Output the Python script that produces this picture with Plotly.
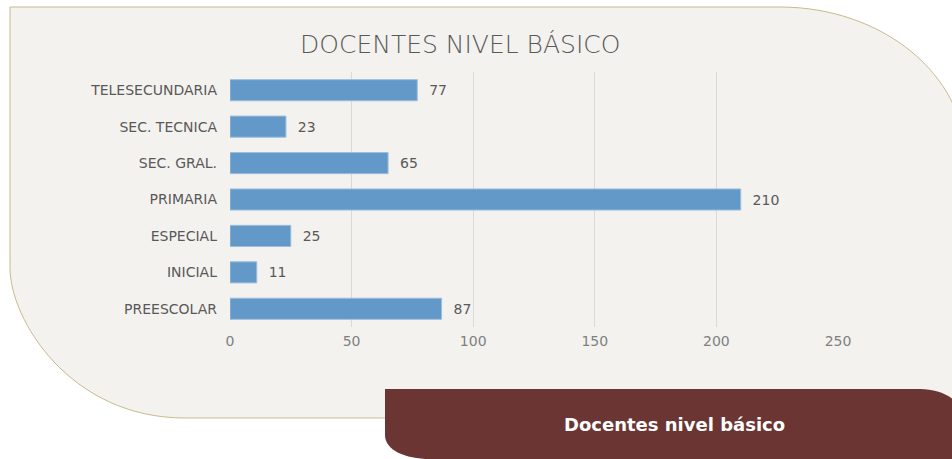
import plotly.graph_objects as go

# ---- data ----
categories = ["PREESCOLAR", "INICIAL", "ESPECIAL", "PRIMARIA", "SEC. GRAL.", "SEC. TECNICA", "TELESECUNDARIA"]
values = [87, 11, 25, 210, 65, 23, 77]
tick_values = [0, 50, 100, 150, 200, 250]
tick_labels = ["0", "50", "100", "150", "200", "250"]
title_text = "DOCENTES NIVEL BÁSICO"
banner_text = "Docentes nivel básico"

W, H = 952, 459


def px(x):
    return x / W


def py(y):
    return 1 - y / H


def path(cmds):
    out = []
    for c, pts in cmds:
        s = c
        s += " ".join(f"{px(x):.5f},{py(y):.5f}" for x, y in pts)
        out.append(s)
    return " ".join(out) + " Z"


# beige panel
rx1, ry1 = 185, 150
rx2, ry2 = 175, 150
panel = path([
    ("M", [(10, 7)]),
    ("L", [(780, 7)]),
    ("C", [(780 + 0.55 * rx1, 7), (780 + rx1, 7 + ry1 - 0.55 * ry1), (780 + rx1, 7 + ry1)]),
    ("L", [(980, 418)]),
    ("L", [(185, 418)]),
    ("C", [(185 - 0.66 * rx2, 418), (10, 418 - 0.66 * ry2), (10, 418 - ry2)]),
    ("L", [(10, 7)]),
])

# red banner
banner = path([
    ("M", [(385, 389)]),
    ("L", [(920, 389)]),
    ("C", [(942, 389), (960, 400), (965, 415)]),
    ("L", [(965, 470)]),
    ("L", [(440, 470)]),
    ("L", [(430, 459)]),
    ("C", [(405, 459), (385, 450), (385, 435)]),
    ("L", [(385, 389)]),
])

LABEL_FONT = "DejaVu Sans"

fig = go.Figure()
fig.add_trace(go.Bar(
    x=values,
    y=categories,
    orientation="h",
    marker=dict(color="#6399C8", line=dict(color="#9DBEDD", width=1)),
    text=[f"\u00a0\u00a0{v}" for v in values],
    textposition="outside",
    textfont=dict(family=LABEL_FONT, size=14, color="#595959"),
    cliponaxis=False,
    hoverinfo="skip",
))

fig.update_layout(
    template="none",
    width=W,
    height=H,
    autosize=False,
    margin=dict(l=0, r=0, t=0, b=0, pad=0, autoexpand=False),
    paper_bgcolor="white",
    plot_bgcolor="rgba(0,0,0,0)",
    showlegend=False,
    bargap=0.42,
    shapes=[
        dict(type="path", path=panel, xref="paper", yref="paper",
             fillcolor="#F3F2EF", line=dict(color="#C9BA8E", width=1), layer="below"),
        dict(type="path", path=banner, xref="paper", yref="paper",
             fillcolor="#6A3532", line=dict(width=0), layer="below"),
    ],
    annotations=[
        dict(text=title_text, x=px(460), y=py(45), xref="paper", yref="paper",
             showarrow=False, xanchor="center", yanchor="middle",
             font=dict(family=LABEL_FONT, size=25, color="#595959", weight=200)),
        dict(text=f"<b>{banner_text}</b>", x=px(674), y=py(424), xref="paper", yref="paper",
             showarrow=False, xanchor="center", yanchor="middle",
             font=dict(family="DejaVu Sans", size=18, color="white")),
    ],
)

fig.update_xaxes(
    domain=[px(230), px(838)],
    range=[0, 250],
    tickvals=tick_values,
    ticktext=tick_labels,
    showgrid=True,
    gridcolor="#D9D9D9",
    gridwidth=1,
    zeroline=False,
    showline=False,
    ticks="",
    automargin=False,
    ticklabelstandoff=4,
    tickfont=dict(family=LABEL_FONT, size=14, color="#808080"),
    fixedrange=True,
)
fig.update_yaxes(
    domain=[py(327), py(72)],
    categoryorder="array",
    categoryarray=categories,
    showgrid=False,
    zeroline=False,
    showline=False,
    ticks="",
    automargin=False,
    ticklabelstandoff=12,
    tickfont=dict(family=LABEL_FONT, size=14, color="#595959"),
    fixedrange=True,
)

fig.write_html(
    "out.html",
    config={"displayModeBar": False, "responsive": False},
    post_script="document.body.style.margin='0';document.body.style.overflow='hidden';",
)
